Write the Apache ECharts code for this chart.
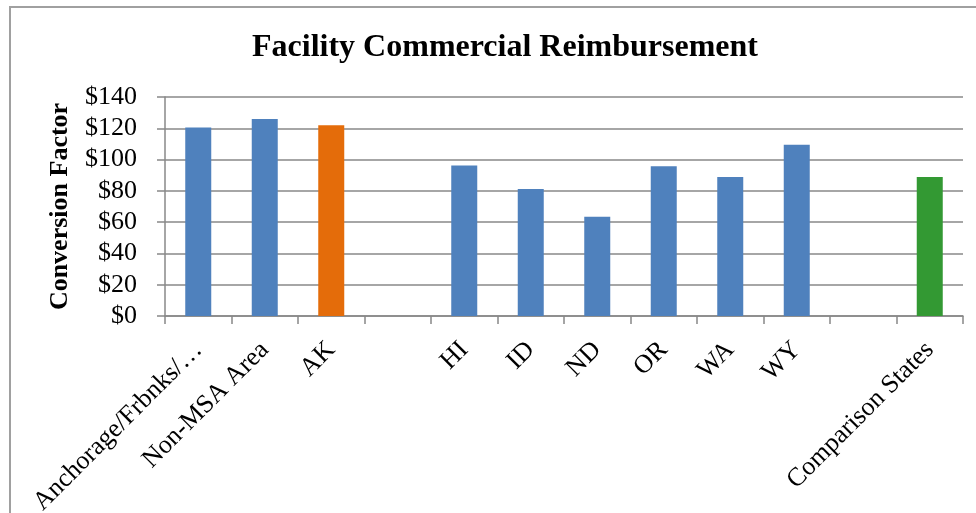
<!DOCTYPE html>
<html>
<head>
<meta charset="utf-8">
<script src="https://cdn.jsdelivr.net/npm/echarts@6/dist/echarts.min.js"></script>
<style>
  html, body { margin: 0; padding: 0; background: #fff; }
  #main { width: 976px; height: 513px; }
</style>
</head>
<body>
<div id="main"></div>
<script>
// chart data
var categories = ['Anchorage/Frbnks/\u2026', 'Non-MSA Area', 'AK', '', 'HI', 'ID', 'ND', 'OR', 'WA', 'WY', '', 'Comparison States'];
var values = [120.5, 126, 122, null, 96.2, 81.2, 63.5, 95.8, 88.9, 109.4, null, 88.9];
var yTicks = [0, 20, 40, 60, 80, 100, 120, 140];

// bar colours (AK orange, comparison green)
var barColors = ['#4f81bd', '#4f81bd', '#e46c0a', '#4f81bd', '#4f81bd', '#4f81bd', '#4f81bd', '#4f81bd', '#4f81bd', '#4f81bd', '#4f81bd', '#339933'];

var serif = '"Liberation Serif", "Times New Roman", serif';

var myChart = echarts.init(document.getElementById('main'));

var option = {
  animation: false,
  backgroundColor: '#fff',
  graphic: [
    {
      type: 'rect',
      shape: { x: 10, y: 7, width: 1000, height: 600 },
      style: { fill: 'none', stroke: '#a0a0a0', lineWidth: 2 },
      silent: true
    }
  ],
  title: {
    text: 'Facility Commercial Reimbursement',
    left: 500,
    textAlign: 'center',
    top: 27,
    textStyle: {
      fontFamily: serif,
      fontWeight: 'bold',
      fontSize: 32,
      color: '#000'
    }
  },
  grid: {
    left: 165,
    right: 13,
    top: 97,
    bottom: 197,
    outerBoundsMode: 'none'
  },
  xAxis: {
    type: 'category',
    data: categories,
    axisLine: { lineStyle: { color: '#888', width: 1.5 } },
    axisTick: { show: true, length: 8, alignWithLabel: false, lineStyle: { color: '#888', width: 1.5 } },
    axisLabel: {
      interval: 0,
      rotate: 45,
      margin: 30,
      fontFamily: serif,
      fontSize: 26,
      color: '#000'
    }
  },
  yAxis: {
    type: 'value',
    min: yTicks[0],
    max: yTicks[yTicks.length - 1],
    interval: 20,
    name: 'Conversion Factor',
    nameLocation: 'middle',
    nameGap: 92,
    nameTextStyle: {
      fontFamily: serif,
      fontWeight: 'bold',
      fontSize: 26,
      color: '#000'
    },
    axisLine: { show: true, lineStyle: { color: '#888', width: 1.5 } },
    axisTick: { show: true, length: 8, lineStyle: { color: '#888', width: 1.5 } },
    axisLabel: {
      margin: 28,
      fontFamily: serif,
      fontSize: 26,
      color: '#000',
      formatter: function (v) { return '$' + v; }
    },
    splitLine: { lineStyle: { color: '#888', width: 1.5 } }
  },
  series: [
    {
      name: 'Conversion Factor',
      type: 'bar',
      barWidth: 26,
      data: values.map(function (v, i) {
        return { value: v, itemStyle: { color: barColors[i] } };
      })
    }
  ]
};

myChart.setOption(option);
</script>
</body>
</html>
